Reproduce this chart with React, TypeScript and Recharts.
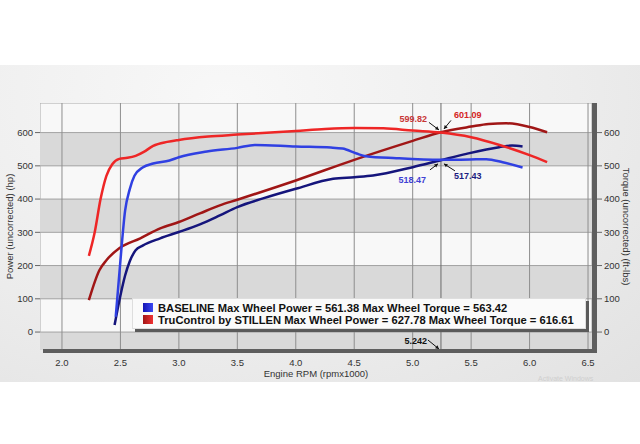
import React from 'react';
import {
  ComposedChart,
  Line,
  XAxis,
  YAxis,
  ReferenceArea,
  ReferenceLine,
  ReferenceDot,
} from 'recharts';

// rpm (x1000) / value pairs
const baselineTorque = [
  [2.46, 46], [2.5, 215], [2.54, 365], [2.58, 430], [2.62, 470], [2.69, 495],
  [2.78, 507], [2.92, 516], [3.0, 526], [3.24, 543], [3.5, 554], [3.65, 563],
  [4.0, 558], [4.3, 555], [4.4, 552], [4.52, 537], [4.6, 529], [4.86, 523],
  [5.24, 518], [5.49, 519], [5.63, 520], [5.77, 511], [5.94, 495],
];
const baselinePower = [
  [2.45, 21], [2.5, 110], [2.54, 170], [2.58, 213], [2.63, 246], [2.69, 260],
  [2.84, 282], [3.0, 301], [3.18, 324], [3.35, 351], [3.5, 376], [3.72, 402],
  [4.0, 431], [4.32, 461], [4.5, 466], [4.66, 471], [5.0, 496], [5.24, 517],
  [5.46, 536], [5.74, 556], [5.85, 561], [5.94, 558],
];
const stillenTorque = [
  [2.23, 229], [2.28, 300], [2.33, 400], [2.38, 470], [2.43, 505], [2.49, 521],
  [2.56, 524], [2.63, 530], [2.7, 542], [2.78, 560], [2.9, 572], [3.0, 578],
  [3.25, 588], [3.5, 594], [4.0, 605], [4.25, 611], [4.5, 614], [4.75, 613],
  [5.0, 606], [5.24, 600], [5.5, 586], [5.75, 562], [6.0, 532], [6.15, 511],
];
const stillenPower = [
  [2.23, 96], [2.32, 186], [2.38, 216], [2.49, 252], [2.67, 282], [2.84, 312],
  [3.0, 331], [3.18, 357], [3.35, 381], [3.5, 398], [4.0, 456], [4.5, 518],
  [5.0, 575], [5.24, 601], [5.5, 618], [5.65, 626], [5.8, 628], [6.0, 617],
  [6.15, 601],
];

const rpmTicks = [2.0, 2.5, 3.0, 3.5, 4.0, 4.5, 5.0, 5.5, 6.0, 6.5];
const valueTicks = [0, 100, 200, 300, 400, 500, 600];
const grayBands = [[500, 600], [300, 400], [100, 200], [-54, 0]];
const rpmDomain = [1.812, 6.534];
const valueDomain = [-54, 689];

const legendNames = ['BASELINE', 'TruControl by STILLEN'];
const maxWheelPower = [561.38, 627.78];
const maxWheelTorque = [563.42, 616.61];

const cursorRpm = 5.242;
const cursorStillen = [599.82, 601.09];
const cursorBaseline = [518.47, 517.43];

const toPoints = (rows: number[][]) => rows.map(([rpm, v]) => ({ rpm, v }));

const axisFont = { fill: '#333', fontSize: 9.5, fontFamily: 'Liberation Sans, Arial, sans-serif' };
const noteFont = { fontSize: 9, fontWeight: 'bold' as const, fontFamily: 'Liberation Sans, Arial, sans-serif' };

const Arrow = ({ x1, y1, x2, y2 }: { x1: number; y1: number; x2: number; y2: number }) => {
  const a = Math.atan2(y2 - y1, x2 - x1);
  const s = 4;
  const p1 = [x2 - s * Math.cos(a - 0.5), y2 - s * Math.sin(a - 0.5)];
  const p2 = [x2 - s * Math.cos(a + 0.5), y2 - s * Math.sin(a + 0.5)];
  return (
    <g>
      <line x1={x1} y1={y1} x2={x2} y2={y2} stroke="#111" strokeWidth={1} />
      <polygon points={`${x2},${y2} ${p1[0]},${p1[1]} ${p2[0]},${p2[1]}`} fill="#111" />
    </g>
  );
};

const StillenMark = (p: any) => {
  const { cx, cy } = p;
  return (
    <g>
      <text x={cx - 14} y={cy - 10} textAnchor="end" fill="#c83636" {...noteFont}>
        {cursorStillen[0].toFixed(2)}
      </text>
      <Arrow x1={cx - 12} y1={cy - 10} x2={cx - 2} y2={cy - 2.5} />
      <text x={cx + 13} y={cy - 14} textAnchor="start" fill="#d42424" {...noteFont}>
        {cursorStillen[1].toFixed(2)}
      </text>
      <Arrow x1={cx + 10} y1={cy - 12} x2={cx + 3} y2={cy - 3.5} />
    </g>
  );
};

const BaselineMark = (p: any) => {
  const { cx, cy } = p;
  return (
    <g>
      <text x={cx - 15} y={cy + 23} textAnchor="end" fill="#4040d4" {...noteFont}>
        {cursorBaseline[0].toFixed(2)}
      </text>
      <Arrow x1={cx - 11} y1={cy + 10} x2={cx - 3} y2={cy + 4} />
      <text x={cx + 13} y={cy + 19} textAnchor="start" fill="#1c1c80" {...noteFont}>
        {cursorBaseline[1].toFixed(2)}
      </text>
      <Arrow x1={cx + 14} y1={cy + 11} x2={cx + 3} y2={cy + 4} />
    </g>
  );
};

const cursorLabel = (p: any) => {
  const { x, y, height } = p.viewBox;
  const bottom = y + height;
  return (
    <g>
      <text x={x - 14} y={bottom - 6} textAnchor="end" fill="#111" {...noteFont}>
        {cursorRpm.toFixed(3)}
      </text>
      <Arrow x1={x - 13} y1={bottom - 10} x2={x - 2} y2={bottom - 1} />
    </g>
  );
};

const leftTitle = (p: any) => {
  const { x, y, height } = p.viewBox;
  const cx = x + 9;
  const cy = y + height / 2;
  return (
    <text x={cx} y={cy} transform={`rotate(-90 ${cx} ${cy})`} textAnchor="middle" dominantBaseline="central" {...axisFont}>
      Power (uncorrected) (hp)
    </text>
  );
};

const rightTitle = (p: any) => {
  const { x, y, height } = p.viewBox;
  const cx = x + 34;
  const cy = y + height / 2;
  return (
    <text x={cx} y={cy} transform={`rotate(90 ${cx} ${cy})`} textAnchor="middle" dominantBaseline="central" {...axisFont}>
      Torque (uncorrected) (ft-lbs)
    </text>
  );
};

const bottomTitle = (p: any) => {
  const { x, y, width, height } = p.viewBox;
  return (
    <text x={x + width / 2} y={y + height - 3} textAnchor="middle" {...axisFont}>
      Engine RPM (rpmx1000)
    </text>
  );
};

const legendIcons = [
  'linear-gradient(90deg, #1414b4, #3a48f2)',
  'linear-gradient(90deg, #a01616, #f03232)',
];

export default function App() {
  return (
    <div style={{ position: 'absolute', left: 0, top: 0, width: 640, height: 444, background: '#fff', overflow: 'hidden' }}>
      <div
        style={{
          position: 'absolute',
          left: 0,
          top: 65,
          width: 640,
          height: 317,
          background: 'radial-gradient(ellipse at 35% 10%, #f8f8f8 0%, #ececec 60%, #e2e2e2 100%)',
        }}
      />
      <div style={{ position: 'absolute', left: 0, top: 0 }}>
        <ComposedChart width={640} height={444} margin={{ top: 103, right: 0, bottom: 64, left: 0 }}>
          <XAxis
            dataKey="rpm"
            type="number"
            domain={rpmDomain}
            allowDataOverflow
            ticks={rpmTicks}
            tickFormatter={(v: number) => v.toFixed(1)}
            axisLine={false}
            tickLine={false}
            tickSize={4}
            tickMargin={5}
            height={30}
            tick={axisFont}
            label={bottomTitle}
          />
          <YAxis
            type="number"
            domain={valueDomain}
            allowDataOverflow
            ticks={valueTicks}
            width={40}
            axisLine={false}
            tickLine={{ stroke: '#666' }}
            tickSize={5}
            tickMargin={2}
            tick={axisFont}
            label={leftTitle}
          />
          <YAxis
            yAxisId="right"
            orientation="right"
            type="number"
            domain={valueDomain}
            allowDataOverflow
            ticks={valueTicks}
            width={48}
            axisLine={false}
            tickLine={{ stroke: '#666' }}
            tickSize={10}
            tickMargin={2}
            tick={axisFont}
            label={rightTitle}
          />

          <ReferenceArea y1={valueDomain[0]} y2={valueDomain[1]} fill="#f8f8f8" fillOpacity={1} stroke="#a8a8a8" ifOverflow="hidden" />
          {grayBands.map(([lo, hi]) => (
            <ReferenceArea key={lo} y1={lo} y2={hi} fill="#d9d9d9" fillOpacity={1} ifOverflow="hidden" />
          ))}
          {valueTicks.map((v) => (
            <ReferenceLine key={`h${v}`} y={v} stroke="#a2a2a2" />
          ))}
          {rpmTicks.map((r) => (
            <ReferenceLine key={`v${r}`} x={r} stroke="#8e8e8e" />
          ))}
          <ReferenceLine x={cursorRpm} stroke="#6a6a6a" label={cursorLabel} />

          <Line data={toPoints(stillenPower)} dataKey="v" type="monotone" stroke="#a01616" strokeWidth={2.5} dot={false} isAnimationActive={false} />
          <Line data={toPoints(baselinePower)} dataKey="v" type="monotone" stroke="#15157c" strokeWidth={2.5} dot={false} isAnimationActive={false} />
          <Line yAxisId="right" data={toPoints(stillenTorque)} dataKey="v" type="monotone" stroke="#ee2626" strokeWidth={2.5} dot={false} isAnimationActive={false} />
          <Line yAxisId="right" data={toPoints(baselineTorque)} dataKey="v" type="monotone" stroke="#3040e2" strokeWidth={2.5} dot={false} isAnimationActive={false} />

          <ReferenceDot x={cursorRpm} y={(cursorStillen[0] + cursorStillen[1]) / 2} r={0} shape={StillenMark} />
          <ReferenceDot x={cursorRpm} y={(cursorBaseline[0] + cursorBaseline[1]) / 2} r={0} shape={BaselineMark} />
        </ComposedChart>
      </div>

      {/* heavy bottom / right frame of the plot */}
      <div style={{ position: 'absolute', left: 43, top: 349, width: 554, height: 4, background: '#5e5e5e' }} />
      <div style={{ position: 'absolute', left: 592, top: 103, width: 5, height: 250, background: '#5e5e5e' }} />

      <div
        style={{
          position: 'absolute',
          left: 132,
          top: 298,
          width: 454,
          height: 31,
          boxSizing: 'border-box',
          background: '#fafafa',
          border: '1px solid #dedede',
          boxShadow: '3px 3px 0 #5a5a5a',
          fontFamily: 'Liberation Sans, Arial, sans-serif',
          fontWeight: 'bold',
          fontSize: 11.2,
          color: '#111',
          paddingTop: 3,
        }}
      >
        {legendNames.map((name, i) => (
          <div key={name} style={{ position: 'relative', height: 12, lineHeight: '12px', whiteSpace: 'nowrap' }}>
            <span
              style={{
                position: 'absolute',
                left: 10,
                top: 1,
                width: 10,
                height: 9,
                background: legendIcons[i],
              }}
            />
            <span style={{ position: 'absolute', left: 25, top: 0 }}>
              {`${name} Max Wheel Power = ${maxWheelPower[i].toFixed(2)} Max Wheel Torque = ${maxWheelTorque[i].toFixed(2)}`}
            </span>
          </div>
        ))}
      </div>

      <div
        style={{
          position: 'absolute',
          left: 538,
          top: 375,
          fontSize: 7,
          color: '#cfcfcf',
          fontFamily: 'Liberation Sans, Arial, sans-serif',
        }}
      >
        Activate Windows
      </div>
    </div>
  );
}
